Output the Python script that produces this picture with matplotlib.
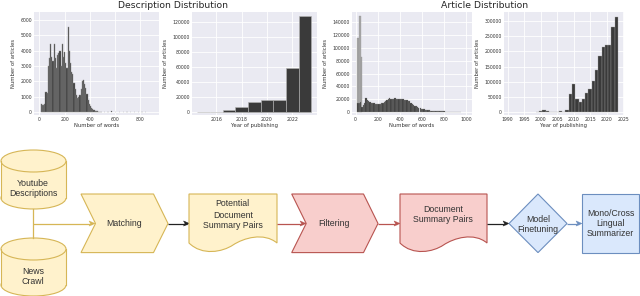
import numpy as np
import matplotlib
matplotlib.use('Agg')
import matplotlib.pyplot as plt
from matplotlib.patches import Polygon, PathPatch, Ellipse, Rectangle
from matplotlib.path import Path

W, H = 640, 296

# description word counts, bins of 9.3 words starting at 10
desc_words = [550, 450, 480, 520, 1300, 1250, 3000, 3500, 4450, 3600, 3300, 4450, 3500, 2900,
              3700, 3850, 3950, 3000, 4450, 3600, 3900, 3200, 2900, 5500, 4000, 3200, 2600, 2500,
              1900, 1500, 1100, 900, 1000, 1100, 1500, 2050, 2100, 1850, 1600, 1200, 800, 550,
              400, 300, 220, 150, 110, 90, 60, 40, 30, 20]
desc_tail = [40, 30, 60, 25, 15, 10, 20, 45, 15, 10, 5, 5]
desc_years = [2015, 2016, 2017, 2018, 2019, 2020, 2021, 2022, 2023]
desc_year_counts = [100, 300, 3000, 7000, 13000, 16000, 16000, 58000, 127000]

# article word counts, bins of 12 words starting at 15
art_words = [15000, 15000, 16000, 8000, 12000, 15000, 22000, 19000, 17000, 16000, 15000, 15000,
             14000, 13000, 13000, 13000, 12500, 13000, 14000, 15000, 16000, 18000, 19000, 21000,
             22000, 21000, 21000, 21000, 21500, 21000, 21000, 20500, 20000, 20000, 20000, 19500,
             19000, 18500, 18000, 17000, 15000, 13000, 11500, 10000, 9000, 8000, 7000, 6000, 5500,
             5000, 4500, 4000, 3500, 3200, 3000, 2700, 2400, 2200, 2000, 1900, 1800, 1700, 1600,
             1500, 1400, 1300, 1200, 1100, 1000, 900, 800, 700, 600, 500, 400, 300, 200, 150]
art_spikes = [115000, 150000, 85000]
art_years = list(range(1999, 2024))
art_year_counts = [2000, 3000, 7000, 3000, 500, 500, 2500, 3500, 2500, 7000, 60000, 92000, 45000,
                   33000, 45000, 62000, 75000, 103000, 138000, 186000, 215000, 220000, 220000,
                   280000, 311000]

xlabel_words = 'Number of words'
xlabel_year = 'Year of publishing'
ylabel = 'Number of articles'

fig = plt.figure(figsize=(W / 100, H / 100), dpi=100)


def panel(x0, x1, xlim, ylim, xticks, yticks, xlabel):
    ax = fig.add_axes([x0 / W, 1 - 115 / H, (x1 - x0) / W, 103 / H])
    ax.set_facecolor('#eaeaf2')
    for s in ax.spines.values():
        s.set_visible(False)
    ax.grid(True, color='white', lw=0.6)
    ax.set_axisbelow(True)
    ax.set_xlim(xlim)
    ax.set_ylim(ylim)
    ax.set_xticks(xticks)
    ax.set_yticks(yticks)
    ax.tick_params(length=0, labelsize=3.3, labelcolor='#333333', pad=1.5)
    ax.set_xlabel(xlabel, fontsize=3.8, color='#333333', labelpad=0.5)
    ax.set_ylabel(ylabel, fontsize=3.8, color='#333333', labelpad=3)
    return ax


ax1 = panel(34, 158.5, (-43, 945), (-175, 6500), range(0, 801, 200), range(0, 6001, 1000), xlabel_words)
edges1 = 10 + 9.3 * np.arange(len(desc_words))
ax1.bar(edges1, desc_words, width=9.3, align='edge', color='#3a3a3a', edgecolor='#8a8a8a', lw=0.3)
edges1b = 510 + 30 * np.arange(len(desc_tail))
ax1.bar(edges1b, desc_tail, width=9.3, align='edge', color='#3a3a3a', edgecolor='#8a8a8a', lw=0.2)

ax2 = panel(192, 317, (2014.08, 2023.95), (-3600, 132800), range(2016, 2023, 2), range(0, 120001, 20000), xlabel_year)
ax2.bar(desc_years, desc_year_counts, width=1, color='#3a3a3a', edgecolor='#b5b5b5', lw=0.4)

ax3 = panel(352, 472, (-33, 1055), (-4200, 155500), range(0, 1001, 200), range(0, 140001, 20000), xlabel_words)
ax3.bar(15 + 15 * np.arange(len(art_spikes)), art_spikes, width=15, align='edge', color='#a8a8a8', edgecolor='#8a8a8a', lw=0.2)
edges3 = 15 + 12 * np.arange(len(art_words))
ax3.bar(edges3, art_words, width=12, align='edge', color='#3a3a3a', edgecolor='#8a8a8a', lw=0.2)

ax4 = panel(504, 623.5, (1988.9, 2025.15), (-8900, 328800), range(1990, 2026, 5), range(0, 300001, 50000), xlabel_year)
ax4.bar(art_years, art_year_counts, width=1, color='#3a3a3a', edgecolor='#a0a0a0', lw=0.25)

fig.text(173 / W, 1 - 5.5 / H, 'Description Distribution', ha='center', va='center', fontsize=6.7, color='#262626')
fig.text(485 / W, 1 - 5.5 / H, 'Article Distribution', ha='center', va='center', fontsize=6.7, color='#262626')

# flow diagram, drawn in pixel coordinates
d = fig.add_axes([0, 0, 1, 1], zorder=-1)
d.set_xlim(0, W)
d.set_ylim(H, 0)
d.axis('off')

YELLOW = ('#fff2cc', '#d6b656')
RED = ('#f8cecc', '#b85450')
BLUE = ('#dae8fc', '#6c8ebf')
TOP, MID, BOT = 194, 223.5, 252.6
LW = 0.8
FONT = 'Liberation Sans'


def label(x, ys, lines):
    for y, line in zip(ys, lines):
        d.text(x, y, line, ha='center', va='center', fontsize=6.3, family=FONT, color='#333333')


def arrow(x0, x1, y, color):
    d.plot([x0, x1 - 3], [y, y], color=color, lw=0.9, solid_capstyle='butt')
    d.add_patch(Polygon([(x1, y), (x1 - 6, y - 2.6), (x1 - 4.5, y), (x1 - 6, y + 2.6)], fc=color, ec=color, lw=0.3))


def cylinder(x0, x1, top, bottom, ry, style):
    cx = (x0 + x1) / 2
    rx = (x1 - x0) / 2
    d.add_patch(Ellipse((cx, bottom - ry), 2 * rx, 2 * ry, fc=style[0], ec=style[1], lw=LW))
    d.add_patch(Rectangle((x0 + 0.4, top + ry), x1 - x0 - 0.8, bottom - top - 2 * ry, fc=style[0], ec='none'))
    d.plot([x0, x0], [top + ry, bottom - ry], color=style[1], lw=LW)
    d.plot([x1, x1], [top + ry, bottom - ry], color=style[1], lw=LW)
    d.add_patch(Ellipse((cx, top + ry), 2 * rx, 2 * ry, fc=style[0], ec=style[1], lw=LW))


def chevron(x0, x1, style):
    pts = [(x0, TOP), (x1 - 14.5, TOP), (x1, MID), (x1 - 14.5, BOT), (x0, BOT), (x0 + 14.5, MID)]
    d.add_patch(Polygon(pts, fc=style[0], ec=style[1], lw=LW))


def document(x0, x1, style):
    w = x1 - x0
    verts = [(x0, TOP), (x1, TOP), (x1, 243),
             (x0 + 0.85 * w, 232), (x0 + 0.62 * w, 238), (x0 + 0.5 * w, 245),
             (x0 + 0.38 * w, 252), (x0 + 0.15 * w, 256), (x0, 243), (x0, TOP)]
    codes = [Path.MOVETO, Path.LINETO, Path.LINETO] + [Path.CURVE4] * 6 + [Path.CLOSEPOLY]
    d.add_patch(PathPatch(Path(verts, codes), fc=style[0], ec=style[1], lw=LW))


d.plot([33, 33], [209, 238], color=YELLOW[1], lw=0.9)
arrow(33, 95, MID, YELLOW[1])
cylinder(1, 66, 150, 209, 11, YELLOW)
cylinder(1, 66, 238, 296, 11, YELLOW)
label(33, [184, 194], ['Youtube', 'Descriptions'])
label(33, [272, 282], ['News', 'Crawl'])

chevron(81, 168, YELLOW)
label(124, [MID], ['Matching'])
arrow(168, 189.5, MID, '#222222')
document(189, 277, YELLOW)
label(232.7, [204, 215, 225], ['Potential', 'Document', 'Summary Pairs'])
arrow(277, 306, MID, RED[1])
chevron(291.7, 378, RED)
label(334, [MID], ['Filtering'])
arrow(378, 400, MID, RED[1])
document(400, 487, RED)
label(443, [210, 220], ['Document', 'Summary Pairs'])
arrow(487, 509, MID, '#222222')
d.add_patch(Polygon([(509, MID), (538, TOP), (567, MID), (538, BOT)], fc=BLUE[0], ec=BLUE[1], lw=LW))
label(538, [219, 229], ['Model', 'Finetuning'])
arrow(567, 582, MID, BLUE[1])
d.add_patch(Rectangle((582, TOP), 57, BOT - TOP, fc=BLUE[0], ec=BLUE[1], lw=LW))
label(610.5, [214, 224, 234], ['Mono/Cross', 'Lingual', 'Summarizer'])

fig.savefig('out.png', dpi=100)
